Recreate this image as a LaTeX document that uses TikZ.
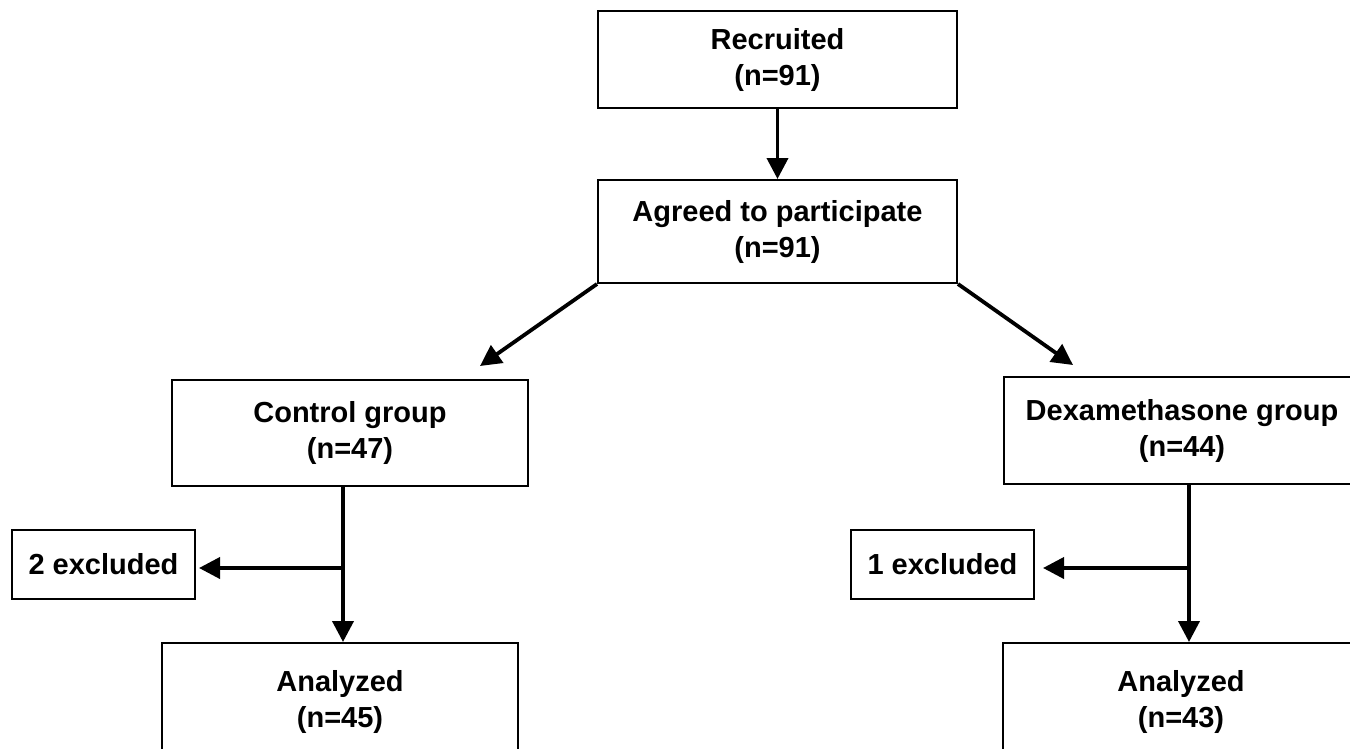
\documentclass[tikz,border=0pt]{standalone}
\usepackage{fontspec}
\setmainfont{Liberation Sans}
\usetikzlibrary{arrows.meta,calc}
\begin{document}
\begin{tikzpicture}[x=1pt,y=-1pt,
  box/.style={draw=black,line width=2pt,fill=white,inner sep=0pt,align=center,
    font=\fontsize{29}{36}\selectfont\bfseries},
  arr/.style={line width=3.8pt,-{Triangle[length=21pt,width=21pt]}}]
\useasboundingbox (0,0) rectangle (1350,748);
\clip (0,0) rectangle (1350,748);
\fill[white] (0,0) rectangle (1350,748);

\node[box,minimum width=359pt,minimum height=97pt] (rec) at (777.5,59.5) {Recruited\\(n=91)};
\node[box,minimum width=359pt,minimum height=103pt] (agr) at (777.5,231.5) {Agreed to participate\\(n=91)};
\node[box,minimum width=356pt,minimum height=106pt] (ctl) at (350,433) {Control group\\(n=47)};
\node[box,minimum width=356pt,minimum height=107pt] (dex) at (1182,430.5) {Dexamethasone group\\(n=44)};
\node[box,minimum width=183pt,minimum height=69pt] (ex1) at (103.5,564.5) {2 excluded};
\node[box,minimum width=183pt,minimum height=69pt] (ex2) at (942.5,564.5) {1 excluded};
\node[box,minimum width=356pt,minimum height=117pt] (an1) at (340,701.5) {Analyzed\\(n=45)};
\node[box,minimum width=356pt,minimum height=117pt] (an2) at (1181,701.5) {Analyzed\\(n=43)};

\coordinate (tl) at (480,366);
\coordinate (tr) at (1073,365);
\coordinate (c1) at (343,486);
\coordinate (b1) at (343,568);
\coordinate (c2) at (1189,484);
\coordinate (b2) at (1189,568);

\draw[arr] (rec.south) -- (agr.north);
\draw[arr] (agr.south west) -- (tl);
\draw[arr] (agr.south east) -- (tr);
\draw[arr] (c1) -- (c1 |- an1.north);
\draw[arr] (b1) -- ([xshift=3pt]b1 -| ex1.east);
\draw[arr] (c2) -- (c2 |- an2.north);
\draw[arr] (b2) -- ([xshift=8pt]b2 -| ex2.east);
\end{tikzpicture}
\end{document}
